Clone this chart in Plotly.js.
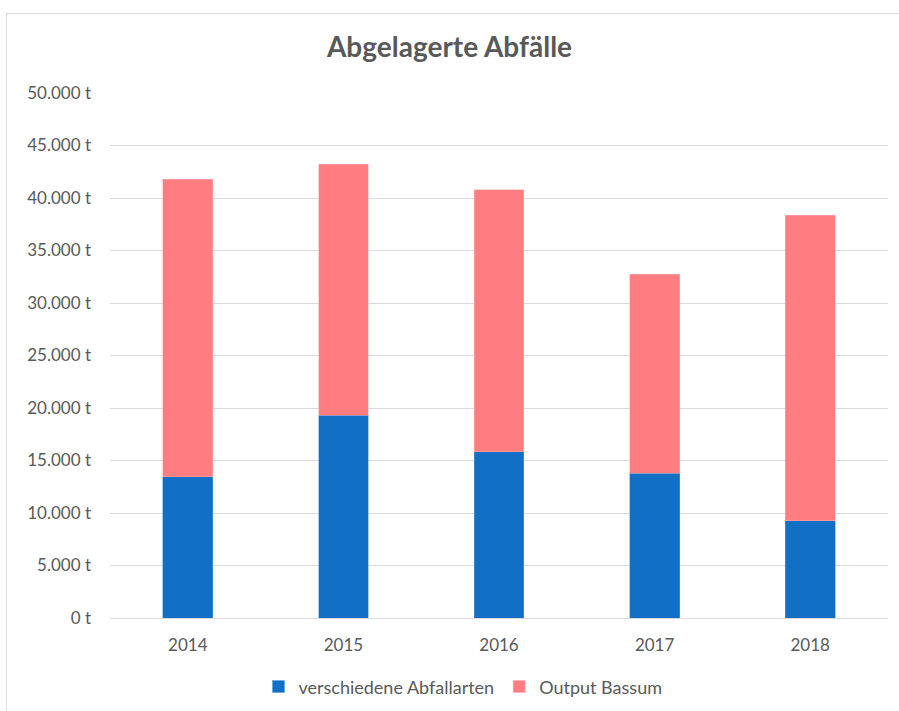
<!DOCTYPE html>
<html>
<head>
<meta charset="utf-8">
<script src="https://cdn.plot.ly/plotly-3.0.1.min.js"></script>
<style>
html,body{margin:0;padding:0;background:#fff;}
#frame{position:absolute;left:6px;top:13px;width:900px;height:710px;border:1px solid #d9d9d9;box-sizing:border-box;pointer-events:none;z-index:5;}
#chart{position:absolute;left:0;top:0;width:899px;height:711px;}
</style>
</head>
<body>
<div id="frame"></div>
<div id="chart"></div>
<script>
const years = ['2014', '2015', '2016', '2017', '2018'];
const verschiedeneAbfallarten = [13430, 19330, 15840, 13780, 9270];
const outputBassum = [28350, 23870, 24960, 18980, 29110];
const yTicks = [0, 5000, 10000, 15000, 20000, 25000, 30000, 35000, 40000, 45000, 50000];
const yTickLabels = ['0 t', '5.000 t', '10.000 t', '15.000 t', '20.000 t', '25.000 t',
                     '30.000 t', '35.000 t', '40.000 t', '45.000 t', '50.000 t'];

const font = "Lato, sans-serif";

const traces = [
  {type:'bar', name:'verschiedene Abfallarten', x:years, y:verschiedeneAbfallarten,
   marker:{color:'#1170c6', line:{color:'#5b9bd5', width:0.5}}, hoverinfo:'y'},
  {type:'bar', name:'Output Bassum', x:years, y:outputBassum,
   marker:{color:'#ff7c80', line:{color:'#ffb0b3', width:0.5}}, hoverinfo:'y'}
];

const layout = {
  width:899, height:711,
  paper_bgcolor:'rgba(0,0,0,0)', plot_bgcolor:'rgba(0,0,0,0)',
  barmode:'stack', bargap:0.68,
  font:{family:font, color:'#595959', size:17},
  title:{text:'<b>Abgelagerte Abfälle</b>', x:0.5, xanchor:'center', y:0.933, yanchor:'middle',
         font:{family:font, size:28, color:'#595959'}},
  margin:{l:110, r:11, t:93, b:93, autoexpand:false},
  xaxis:{type:'category', automargin:false, showgrid:false, showline:true, linecolor:'#d9d9d9', linewidth:1,
         ticks:'', tickfont:{size:17, color:'#595959'}, ticklabelstandoff:12},
  yaxis:{range:[0,50000], automargin:false, tickmode:'array', tickvals:yTicks, ticktext:yTickLabels,
         showgrid:true, gridcolor:'#d9d9d9', gridwidth:1, zeroline:false, showline:false,
         ticks:'', tickfont:{size:17, color:'#595959'}, ticklabelstandoff:18},
  legend:{orientation:'h', xref:'container', yref:'container', x:0.515, xanchor:'center',
          y:0.034, yanchor:'middle', itemwidth:30,
          font:{size:18, color:'#595959'}, traceorder:'normal'},
  showlegend:true
};

Plotly.newPlot('chart', traces, layout, {displayModeBar:false, staticPlot:true});
</script>
</body>
</html>
